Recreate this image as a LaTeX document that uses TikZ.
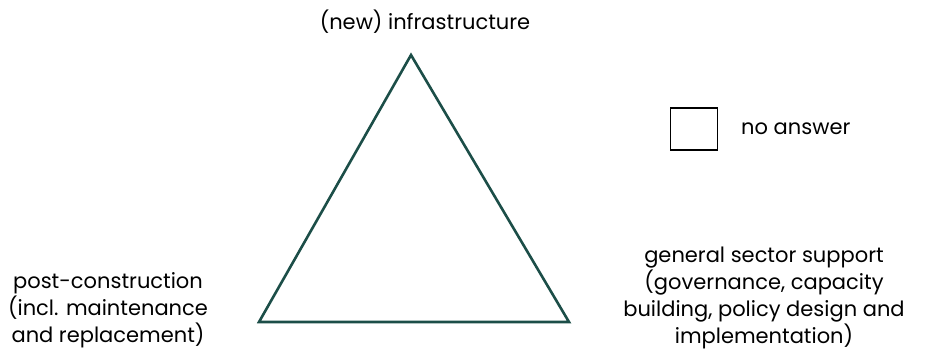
\documentclass[tikz,border=0pt]{standalone}
\usepackage{fontspec}
\setmainfont{Poppins}
\usepackage{tikz}

\definecolor{tealdark}{RGB}{28,78,72}

\begin{document}
\begin{tikzpicture}[x=1pt, y=1pt]
    \tikzstyle{label} = [align=center, inner sep=0pt,
	font=\fontsize{21}{27.2}\selectfont]
    \tikzstyle{side} = [draw=tealdark, line width=2.6pt, line join=miter]
    \useasboundingbox (0,0) rectangle (925,358);
	% corners of the triangle
	\coordinate (top) at (411,303);
	\coordinate (left) at (259,36);
	\coordinate (right) at (569,36);
	\draw[side] (top) -- (left) -- (right) -- cycle;

	\node[label] (topl) at (425,336) {(new) infrastructure};
	\node[label] (leftl) at (108,48)
		{post-construction\\(incl. maintenance\\and replacement)};
	\node[label] (rightl) at (764,60)
		{general sector support\\(governance, capacity\\building, policy design and\\implementation)};

	% legend
	\node[draw, line width=1.6pt, minimum width=47pt, minimum height=42pt,
		inner sep=0pt] (box) at (694,229) {};
	\node[label, anchor=west] (noans) at (741,229) {no answer};
\end{tikzpicture}
\end{document}
